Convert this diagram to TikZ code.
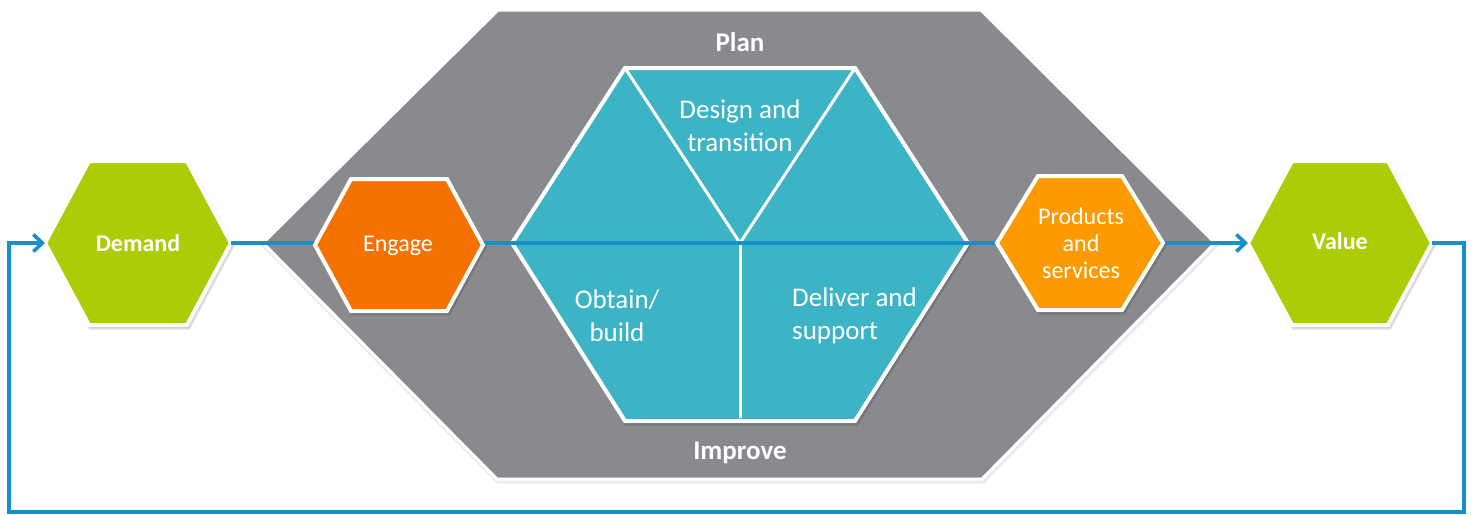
\documentclass[tikz,border=0pt]{standalone}
\usepackage{fontspec}
\setmainfont{Carlito}
\usetikzlibrary{arrows.meta,calc}
\definecolor{cgray}{HTML}{898A8E}
\definecolor{cteal}{HTML}{3CB4C6}
\definecolor{cgreen}{HTML}{AACD06}
\definecolor{corange}{HTML}{F57100}
\definecolor{cyellow}{HTML}{FD9A00}
\definecolor{cblue}{HTML}{1690CA}
\tikzset{
  hexbox/.style={draw=white,line width=4pt,line join=miter},
  shadowbox/.style={draw=black,fill=black,opacity=0.13,line width=4pt},
  flow/.style={draw=cblue,line width=3.6pt},
  tip/.style={-{Straight Barb[length=9pt,width=17pt,line width=3.6pt]}},
  lbl/.style={text=white,align=center,inner sep=0pt},
  divider/.style={draw=white,line width=3pt},
}
% name, cx, cy, half width, half top edge, half height, fill
\newcommand\myhex[7]{%
  \path[shadowbox] (#2-#4+1.5,#3+2.5) -- (#2-#5+1.5,#3-#6+2.5) -- (#2+#5+1.5,#3-#6+2.5) -- (#2+#4+1.5,#3+2.5) -- (#2+#5+1.5,#3+#6+2.5) -- (#2-#5+1.5,#3+#6+2.5) -- cycle;
  \path[hexbox,fill=#7] (#2-#4,#3) -- (#2-#5,#3-#6) -- (#2+#5,#3-#6) -- (#2+#4,#3) -- (#2+#5,#3+#6) -- (#2-#5,#3+#6) -- cycle;
  \coordinate (#1L) at (#2-#4,#3);
  \coordinate (#1R) at (#2+#4,#3);
}
\begin{document}
\begin{tikzpicture}[x=1pt,y=-1pt]
\useasboundingbox (0,0) rectangle (1474,515);
% big grey hexagon
\path[draw=black,opacity=0.08,line width=5pt] (264,245) -- (499,12) -- (982,12) -- (1216,245) -- (983,481) -- (498,481) -- cycle;
\path[fill=cgray,draw=white,line width=3pt] (263,243) -- (498,10) -- (981,10) -- (1215,243) -- (982,479) -- (497,479) -- cycle;
\node[lbl,font=\bfseries\fontsize{27}{32}\selectfont] (plan) at (740,42) {Plan};
\node[lbl,font=\bfseries\fontsize{27}{32}\selectfont] (improve) at (740,453) {Improve};
% teal hexagon
\path[shadowbox] (513.5,245.5) -- (626.5,70.5) -- (856.5,70.5) -- (969.5,245.5) -- (856.5,423.5) -- (626.5,423.5) -- cycle;
\path[hexbox,fill=cteal] (512,243) -- (625,68) -- (855,68) -- (968,243) -- (855,421) -- (625,421) -- cycle;
\coordinate (ctr) at (740,243);
\coordinate (tl) at (625,68);
\coordinate (tr) at (855,68);
\coordinate (bot) at (740,418);
\draw[divider] (tl) -- (ctr) -- (tr);
\draw[divider] (ctr) -- (bot);
\node[lbl,font=\fontsize{27}{33}\selectfont] (design) at (740,126) {Design and\\transition};
\node[lbl,font=\fontsize{27}{33}\selectfont] (obtain) at (617,316) {Obtain/\\build};
\node[lbl,font=\fontsize{27}{33}\selectfont,anchor=west,align=left] (deliver) at (792,316) {Deliver and\\support};
% main flow line
\myhex{dem}{138}{243}{93}{49}{82}{cgreen}
\myhex{val}{1340}{243}{92}{48}{82}{cgreen}
\draw[flow,tip] (demR) -- (valL);
\myhex{eng}{399}{245}{84}{48}{66}{corange}
\myhex{prd}{1080}{243}{83}{42}{67}{cyellow}
\node[lbl,font=\bfseries\fontsize{24}{28}\selectfont] (demand) at (138,243) {Demand};
\node[lbl,font=\bfseries\fontsize{24}{28}\selectfont] (value) at (1340,241) {Value};
\node[lbl,font=\fontsize{24}{28}\selectfont] (engage) at (398,246) {Engage};
\node[lbl,font=\fontsize{24}{27}\selectfont] (products) at (1081,243) {Products\\and\\services};
% feedback loop
\coordinate (lpTR) at (1464,243);
\coordinate (lpBL) at (9,512);
\draw[flow,tip,line join=miter] (valR) -- (lpTR) |- (lpBL) |- (demL);
\end{tikzpicture}
\end{document}
